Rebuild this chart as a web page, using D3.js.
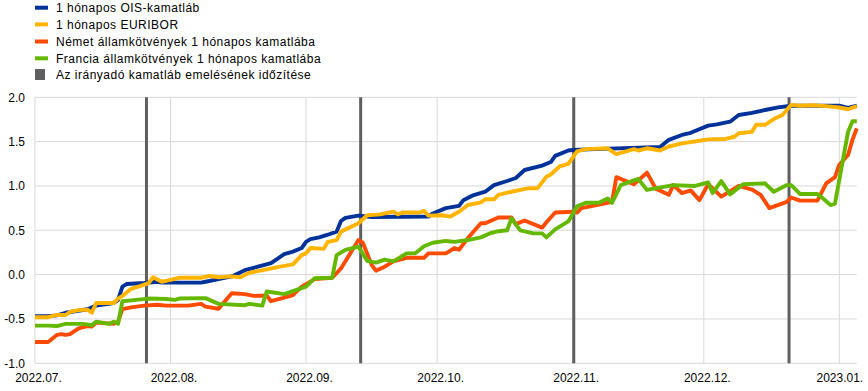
<!DOCTYPE html>
<html><head><meta charset="utf-8">
<script src="https://cdn.jsdelivr.net/npm/d3@7"></script>
<style>
body{margin:0;background:#fff;}
text{font-family:"Liberation Sans",Arial,sans-serif;font-size:12px;fill:#000;}
</style></head><body>
<svg id="c" width="868" height="391"></svg>
<script>
const seriesNames = ["1 hónapos OIS-kamatláb","1 hónapos EURIBOR","Német államkötvények 1 hónapos kamatlába","Francia államkötvények 1 hónapos kamatlába"];
const hikeLabel = "Az irányadó kamatláb emelésének időzítése";
const colors = ["#003299","#ffb400","#ff4b00","#65b800"];
const hikeDates = ["2022-07-26T12:00","2022-09-13T12:00","2022-11-01T06:00","2022-12-20T12:00"];
const yTicks = [-1.0,-0.5,0.0,0.5,1.0,1.5,2.0];
const xTicks = ["2022-07-01","2022-08-01","2022-09-01","2022-10-01","2022-11-01","2022-12-01","2023-01-01"];
const xTickLabels = ["2022.07.","2022.08.","2022.09.","2022.10.","2022.11.","2022.12.","2023.01."];

const ois = [
["2022-07-01",-0.47],["2022-07-04",-0.47],["2022-07-06",-0.46],["2022-07-08",-0.43],["2022-07-13",-0.39],["2022-07-15",-0.35],
["2022-07-19",-0.32],["2022-07-20",-0.285],["2022-07-21",-0.135],["2022-07-22",-0.105],["2022-07-26",-0.095],["2022-07-29",-0.08],
["2022-07-30",-0.09],["2022-08-08",-0.09],["2022-08-09",-0.08],["2022-08-12",-0.05],["2022-08-15",-0.02],["2022-08-18",0.05],
["2022-08-21",0.09],["2022-08-24",0.13],["2022-08-27",0.23],["2022-08-29",0.26],["2022-08-31",0.30],["2022-09-01",0.37],
["2022-09-02",0.40],["2022-09-04",0.42],["2022-09-06",0.45],["2022-09-08",0.485],["2022-09-09",0.605],["2022-09-10",0.64],
["2022-09-13",0.665],["2022-09-16",0.65],["2022-09-29",0.655],["2022-09-30",0.69],["2022-10-03",0.75],["2022-10-06",0.775],
["2022-10-07",0.84],["2022-10-09",0.89],["2022-10-12",0.935],["2022-10-14",1.01],["2022-10-17",1.056],["2022-10-19",1.09],
["2022-10-21",1.18],["2022-10-25",1.23],["2022-10-27",1.27],["2022-10-28",1.34],["2022-10-31",1.40],["2022-11-01",1.405],
["2022-11-06",1.415],["2022-11-21",1.44],["2022-11-23",1.52],["2022-11-26",1.575],["2022-11-28",1.60],["2022-12-02",1.68],
["2022-12-04",1.695],["2022-12-07",1.725],["2022-12-09",1.80],["2022-12-12",1.825],["2022-12-15",1.857],["2022-12-18",1.887],
["2022-12-21",1.905],["2023-01-01",1.905],["2023-01-03",1.88],["2023-01-05",1.905]
];
const euribor = [
["2022-07-01",-0.48],["2022-07-04",-0.48],["2022-07-06",-0.455],["2022-07-08",-0.455],["2022-07-09",-0.42],["2022-07-11",-0.40],
["2022-07-13",-0.395],["2022-07-14",-0.43],["2022-07-15",-0.32],["2022-07-19",-0.32],["2022-07-20",-0.27],["2022-07-21",-0.24],
["2022-07-23",-0.16],["2022-07-25",-0.13],["2022-07-27",-0.095],["2022-07-28",-0.03],["2022-07-30",-0.08],["2022-08-01",-0.06],
["2022-08-03",-0.035],["2022-08-08",-0.035],["2022-08-10",-0.015],["2022-08-12",-0.03],["2022-08-15",-0.02],["2022-08-17",-0.03],
["2022-08-19",0.02],["2022-08-23",0.06],["2022-08-26",0.09],["2022-08-29",0.115],["2022-08-31",0.22],["2022-09-01",0.24],
["2022-09-02",0.30],["2022-09-05",0.29],["2022-09-06",0.37],["2022-09-08",0.39],["2022-09-09",0.485],["2022-09-13",0.58],
["2022-09-15",0.67],["2022-09-18",0.68],["2022-09-21",0.71],["2022-09-22",0.68],["2022-09-23",0.70],["2022-09-27",0.70],
["2022-09-28",0.72],["2022-09-29",0.665],["2022-10-02",0.67],["2022-10-04",0.655],["2022-10-06",0.71],["2022-10-08",0.785],
["2022-10-11",0.815],["2022-10-12",0.85],["2022-10-14",0.85],["2022-10-15",0.90],["2022-10-18",0.935],["2022-10-22",0.975],
["2022-10-24",0.975],["2022-10-26",1.105],["2022-10-27",1.13],["2022-10-29",1.22],["2022-10-31",1.25],["2022-11-02",1.39],
["2022-11-04",1.415],["2022-11-09",1.425],["2022-11-11",1.36],["2022-11-15",1.415],["2022-11-16",1.40],["2022-11-18",1.425],
["2022-11-21",1.40],["2022-11-23",1.445],["2022-11-26",1.48],["2022-11-30",1.51],["2022-12-02",1.525],["2022-12-06",1.53],
["2022-12-08",1.555],["2022-12-09",1.595],["2022-12-12",1.61],["2022-12-13",1.69],["2022-12-15",1.69],["2022-12-17",1.755],
["2022-12-19",1.80],["2022-12-21",1.915],["2022-12-23",1.905],["2022-12-26",1.91],["2022-12-29",1.90],["2023-01-01",1.885],
["2023-01-03",1.865],["2023-01-05",1.90]
];
const german = [
["2022-07-01",-0.76],["2022-07-04",-0.76],["2022-07-06",-0.68],["2022-07-07",-0.67],["2022-07-08",-0.68],["2022-07-09",-0.67],
["2022-07-11",-0.605],["2022-07-13",-0.58],["2022-07-14",-0.585],["2022-07-15",-0.54],["2022-07-19",-0.555],["2022-07-20",-0.53],
["2022-07-21",-0.39],["2022-07-23",-0.37],["2022-07-26",-0.35],["2022-07-29",-0.34],["2022-07-31",-0.35],["2022-08-05",-0.35],
["2022-08-08",-0.33],["2022-08-09",-0.36],["2022-08-12",-0.385],["2022-08-15",-0.21],["2022-08-18",-0.22],["2022-08-20",-0.24],
["2022-08-23",-0.235],["2022-08-24",-0.30],["2022-08-27",-0.26],["2022-08-29",-0.23],["2022-08-31",-0.135],["2022-09-03",-0.05],
["2022-09-07",-0.035],["2022-09-09",0.07],["2022-09-13",0.39],["2022-09-14",0.36],["2022-09-16",0.11],["2022-09-17",0.045],
["2022-09-19",0.09],["2022-09-21",0.15],["2022-09-24",0.19],["2022-09-28",0.19],["2022-09-29",0.24],["2022-10-03",0.24],
["2022-10-05",0.30],["2022-10-06",0.28],["2022-10-08",0.41],["2022-10-11",0.58],["2022-10-12",0.58],["2022-10-15",0.645],
["2022-10-18",0.645],["2022-10-19",0.57],["2022-10-21",0.61],["2022-10-25",0.53],["2022-10-26",0.59],["2022-10-28",0.70],
["2022-11-01",0.71],["2022-11-02",0.70],["2022-11-03",0.75],["2022-11-07",0.79],["2022-11-10",0.82],["2022-11-11",1.10],
["2022-11-15",1.02],["2022-11-18",1.15],["2022-11-20",0.97],["2022-11-23",0.90],["2022-11-24",1.01],["2022-11-26",0.92],
["2022-11-28",0.95],["2022-11-30",0.84],["2022-12-02",1.02],["2022-12-05",0.88],["2022-12-09",1.00],["2022-12-12",0.96],
["2022-12-14",0.90],["2022-12-16",0.75],["2022-12-20",0.82],["2022-12-21",0.87],["2022-12-23",0.835],["2022-12-27",0.835],
["2022-12-29",1.03],["2022-12-31",1.10],["2023-01-01",1.24],["2023-01-03",1.35],["2023-01-04",1.52],["2023-01-05",1.65]
];
const french = [
["2022-07-01",-0.575],["2022-07-04",-0.575],["2022-07-06",-0.58],["2022-07-08",-0.555],["2022-07-12",-0.555],["2022-07-14",-0.57],
["2022-07-15",-0.53],["2022-07-18",-0.555],["2022-07-19",-0.53],["2022-07-20",-0.555],["2022-07-21",-0.30],["2022-07-23",-0.29],
["2022-07-27",-0.27],["2022-07-31",-0.275],["2022-08-02",-0.285],["2022-08-03",-0.27],["2022-08-09",-0.265],["2022-08-12",-0.33],
["2022-08-18",-0.345],["2022-08-19",-0.33],["2022-08-22",-0.35],["2022-08-23",-0.19],["2022-08-27",-0.22],["2022-08-30",-0.17],
["2022-09-01",-0.135],["2022-09-03",-0.04],["2022-09-07",-0.035],["2022-09-08",0.22],["2022-09-10",0.28],["2022-09-13",0.315],
["2022-09-15",0.155],["2022-09-17",0.135],["2022-09-19",0.17],["2022-09-21",0.15],["2022-09-24",0.24],["2022-09-26",0.24],
["2022-09-28",0.32],["2022-09-30",0.36],["2022-10-03",0.38],["2022-10-05",0.37],["2022-10-08",0.39],["2022-10-11",0.42],
["2022-10-13",0.465],["2022-10-15",0.49],["2022-10-17",0.50],["2022-10-18",0.635],["2022-10-20",0.50],["2022-10-23",0.465],
["2022-10-25",0.465],["2022-10-26",0.42],["2022-10-28",0.51],["2022-10-31",0.60],["2022-11-02",0.77],["2022-11-04",0.81],
["2022-11-07",0.81],["2022-11-09",0.86],["2022-11-10",0.81],["2022-11-12",1.01],["2022-11-16",1.08],["2022-11-18",0.955],
["2022-11-24",1.01],["2022-11-29",1.00],["2022-12-02",1.04],["2022-12-03",0.92],["2022-12-05",1.055],["2022-12-07",0.905],
["2022-12-10",1.02],["2022-12-15",1.03],["2022-12-17",0.935],["2022-12-20",1.01],["2022-12-21",1.01],["2022-12-23",0.91],
["2022-12-27",0.91],["2022-12-28",0.87],["2022-12-30",0.785],["2022-12-31",0.80],["2023-01-03",1.61],["2023-01-04",1.73],
["2023-01-05",1.73]
];
const allSeries = [ois, euribor, german, french];

const parse = d3.isoParse;
const svg = d3.select("#c");
const L = 35, R = 856.8, T = 97.3, B = 363.3;
const x = d3.scaleTime().domain([parse("2022-07-01"), parse("2023-01-05")]).range([L, R]);
const y = d3.scaleLinear().domain([-1, 2]).range([B, T]);

// gridlines
const grid = svg.append("g");
grid.selectAll("line.h").data(yTicks).join("line")
  .attr("x1", L).attr("x2", R).attr("y1", d => y(d)).attr("y2", d => y(d))
  .attr("stroke", "#d9d9d9").attr("stroke-width", 1);
grid.selectAll("line.v").data(xTicks).join("line")
  .attr("x1", d => x(parse(d))).attr("x2", d => x(parse(d))).attr("y1", T).attr("y2", B)
  .attr("stroke", "#d9d9d9").attr("stroke-width", 1);

// y axis labels
const yAxis = d3.axisLeft(y).tickValues(yTicks).tickFormat(d3.format(".1f")).tickSize(0).tickPadding(10);
const gy = svg.append("g").attr("transform", `translate(${L},0)`).call(yAxis);
gy.select(".domain").remove();
gy.selectAll("text").style("font-family", '"Liberation Sans",Arial,sans-serif').style("font-size", "12px").attr("fill", "#000")
  .text(d => d3.format(".1f")(d).replace("−", "-"));

// x axis labels
const xAxis = d3.axisBottom(x).tickValues(xTicks.map(parse)).tickFormat((d, i) => xTickLabels[i]).tickSize(0).tickPadding(10);
const gx = svg.append("g").attr("transform", `translate(0,${B})`).call(xAxis);
gx.select(".domain").remove();
gx.selectAll("text").style("font-family", '"Liberation Sans",Arial,sans-serif').style("font-size", "12px").attr("fill", "#000")
  .attr("dx", (d, i) => i === xTicks.length - 1 ? 0 : 3);

// hike lines
svg.append("g").selectAll("line").data(hikeDates).join("line")
  .attr("x1", d => x(parse(d))).attr("x2", d => x(parse(d))).attr("y1", T).attr("y2", B)
  .attr("stroke", "#5f5f5f").attr("stroke-width", 3);

// series
const line = d3.line().x(d => x(parse(d[0]))).y(d => y(d[1]));
svg.append("g").selectAll("path").data(allSeries).join("path")
  .attr("d", line).attr("fill", "none")
  .attr("stroke", (d, i) => colors[i]).attr("stroke-width", 3.9)
  .attr("stroke-linejoin", "round").attr("stroke-linecap", "butt");

// legend
const lg = svg.append("g");
const legY = [7.7, 24.4, 41.5, 58.3, 75];
seriesNames.forEach((n, i) => {
  lg.append("rect").attr("x", 35).attr("y", legY[i] - 2).attr("width", 13).attr("height", 4).attr("fill", colors[i]);
  lg.append("text").attr("x", 56).attr("y", legY[i]).attr("dy", "0.35em").style("letter-spacing", "0.5px").text(n);
});
lg.append("rect").attr("x", 35).attr("y", legY[4] - 6).attr("width", 10).attr("height", 11).attr("fill", "#5f5f5f");
lg.append("text").attr("x", 56).attr("y", legY[4]).attr("dy", "0.35em").style("letter-spacing", "0.5px").text(hikeLabel);
</script>
</body></html>
